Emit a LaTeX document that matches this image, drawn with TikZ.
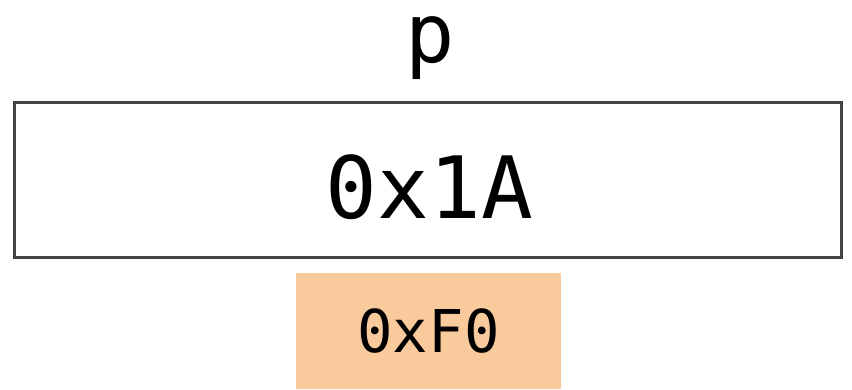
\documentclass[tikz,border=0pt]{standalone}
\usepackage{fontspec}
\setmonofont{DejaVu Sans Mono}
\definecolor{boxline}{HTML}{444444}
\definecolor{peach}{HTML}{F8CA9C}
\begin{document}
\begin{tikzpicture}[x=1pt,y=1pt,
  valbox/.style={draw=boxline,line width=3pt,minimum width=827pt,minimum height=154pt,inner sep=0pt},
  addrbox/.style={fill=peach,minimum width=265pt,minimum height=116pt,inner sep=0pt},
  bigtxt/.style={font=\ttfamily\fontsize{86}{86}\selectfont,inner sep=0pt},
  smalltxt/.style={font=\ttfamily\fontsize{59}{59}\selectfont,inner sep=0pt}]
\useasboundingbox (0,0) rectangle (852,389);
\node[valbox] (val) at (427.5,209) {};
\node[bigtxt,anchor=base] (valtxt) at (429.5,171) {0x1A};
\node[addrbox] (addr) at (428.5,58) {};
\node[smalltxt,anchor=base] (addrtxt) at (428.5,37) {0xF0};
\node[bigtxt,anchor=base,font=\ttfamily\fontsize{82}{82}\selectfont] (name) at (430,326) {p};
\end{tikzpicture}
\end{document}
